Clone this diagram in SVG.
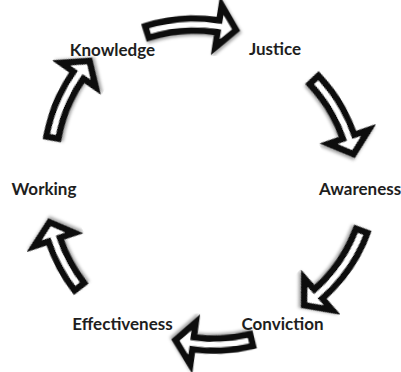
<svg xmlns="http://www.w3.org/2000/svg" width="401" height="372" viewBox="0 0 401 372">
  <defs>
    <style>
      .arrow { fill: #ffffff; stroke: #111111; stroke-width: 6.5; stroke-linejoin: miter; stroke-miterlimit: 10; filter: url(#shadow); }
      .label { font-family: Lato, "Open Sans", "Liberation Sans", sans-serif; font-weight: bold; font-size: 17px; fill: #1e1e1e; }
    </style>
    <filter id="shadow" x="-20%" y="-20%" width="140%" height="140%">
      <feDropShadow dx="1.5" dy="2" stdDeviation="1.5" flood-color="#000000" flood-opacity="0.35"/>
    </filter>
  </defs>
  <rect width="401" height="372" fill="#ffffff"/>
  <g id="connectors">
    <path id="arrow-knowledge-justice" class="arrow" transform="translate(194.65,181.5) rotate(-1.25)" d="M-46.02,-156.37 A163,163 0 0 1 28.30,-160.52 L30.91,-175.30 L44.59,-150.53 L23.62,-133.93 L26.22,-148.71 A151,151 0 0 0 -42.63,-144.85 Z"/>
    <path id="arrow-justice-awareness" class="arrow" transform="translate(200.2,188) rotate(61)" d="M-40.81,-157.80 A163,163 0 0 1 28.30,-160.52 L30.91,-175.30 L44.59,-150.53 L23.62,-133.93 L26.22,-148.71 A151,151 0 0 0 -37.81,-146.18 Z"/>
    <path id="arrow-awareness-conviction" class="arrow" transform="translate(214.6,176.2) rotate(128.7)" d="M-51.18,-154.75 A163,163 0 0 1 28.30,-160.52 L30.91,-175.30 L44.59,-150.53 L23.62,-133.93 L26.22,-148.71 A151,151 0 0 0 -47.41,-143.36 Z"/>
    <path id="arrow-conviction-effectiveness" class="arrow" transform="translate(213.5,187.7) rotate(177.5)" d="M-32.50,-159.72 A163,163 0 0 1 28.30,-160.52 L30.91,-175.30 L44.59,-150.53 L23.62,-133.93 L26.22,-148.71 A151,151 0 0 0 -30.11,-147.96 Z"/>
    <path id="arrow-effectiveness-working" class="arrow" transform="translate(203.2,190.1) rotate(241.65)" d="M-27.19,-160.72 A163,163 0 0 1 28.30,-160.52 L30.91,-175.30 L44.59,-150.53 L23.62,-133.93 L26.22,-148.71 A151,151 0 0 0 -25.19,-148.89 Z"/>
    <path id="arrow-working-knowledge" class="arrow" transform="translate(206.9,165.3) rotate(-64.9)" d="M-41.91,-157.52 A163,163 0 0 1 28.30,-160.52 L30.91,-175.30 L44.59,-150.53 L23.62,-133.93 L26.22,-148.71 A151,151 0 0 0 -38.82,-145.93 Z"/>
  </g>
  <g id="node-knowledge"><text class="label" x="112.5" y="56" text-anchor="middle">Knowledge</text></g>
  <g id="node-justice"><text class="label" x="275" y="55" text-anchor="middle">Justice</text></g>
  <g id="node-awareness"><text class="label" x="319" y="194.5">Awareness</text></g>
  <g id="node-conviction"><text class="label" x="282.5" y="329.5" text-anchor="middle">Conviction</text></g>
  <g id="node-effectiveness"><text class="label" x="122.5" y="330" text-anchor="middle">Effectiveness</text></g>
  <g id="node-working"><text class="label" x="44" y="194.5" text-anchor="middle">Working</text></g>
</svg>
